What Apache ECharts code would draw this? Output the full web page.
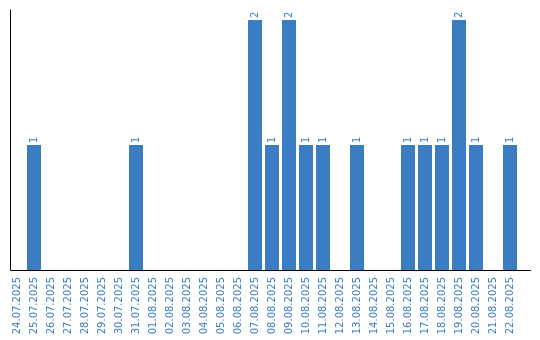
<!DOCTYPE html>
<html>
<head>
<meta charset="utf-8">
<script src="https://cdn.jsdelivr.net/npm/echarts@6/dist/echarts.min.js"></script>
<style>html,body{margin:0;padding:0;background:#fff}#c{width:540px;height:340px}</style>
</head>
<body>
<div id="c"></div>
<script>
var categories = ['24.07.2025','25.07.2025','26.07.2025','27.07.2025','28.07.2025','29.07.2025','30.07.2025','31.07.2025','01.08.2025','02.08.2025','03.08.2025','04.08.2025','05.08.2025','06.08.2025','07.08.2025','08.08.2025','09.08.2025','10.08.2025','11.08.2025','12.08.2025','13.08.2025','14.08.2025','15.08.2025','16.08.2025','17.08.2025','18.08.2025','19.08.2025','20.08.2025','21.08.2025','22.08.2025'];
var values = [0,1,0,0,0,0,0,1,0,0,0,0,0,0,2,1,2,1,1,0,1,0,0,1,1,1,2,1,0,1];

var blue = '#3b7dc2';
var chart = echarts.init(document.getElementById('c'), null, {renderer:'canvas'});
chart.setOption({
  animation: false,
  grid: {left: 8.5, right: 21.5, top: 10, bottom: 70},
  xAxis: {
    type: 'category',
    data: categories,
    axisLine: {show: false},
    axisTick: {show: false},
    axisLabel: {rotate: 90, color: blue, fontFamily: 'DejaVu Sans', fontSize: 10, margin: 7, interval: 0}
  },
  yAxis: {
    type: 'value',
    min: 0,
    max: 2.08,
    offset: -2,
    axisLine: {show: true, lineStyle: {color: '#000', width: 1}},
    axisTick: {show: false},
    axisLabel: {show: false},
    splitLine: {show: false}
  },
  series: [{
    type: 'bar',
    data: values.map(function(v){ return v > 0 ? v : null; }),
    barWidth: 14,
    itemStyle: {color: blue},
    label: {
      show: true,
      position: 'top',
      rotate: 90,
      align: 'left',
      verticalAlign: 'middle',
      distance: 2,
      color: blue,
      fontFamily: 'DejaVu Sans',
      fontSize: 10
    }
  }],
  graphic: [{
    type: 'line',
    shape: {x1: 10.5, y1: 270.5, x2: 531, y2: 270.5},
    style: {stroke: '#000', lineWidth: 1},
    z: 10
  }]
});
</script>
</body>
</html>
